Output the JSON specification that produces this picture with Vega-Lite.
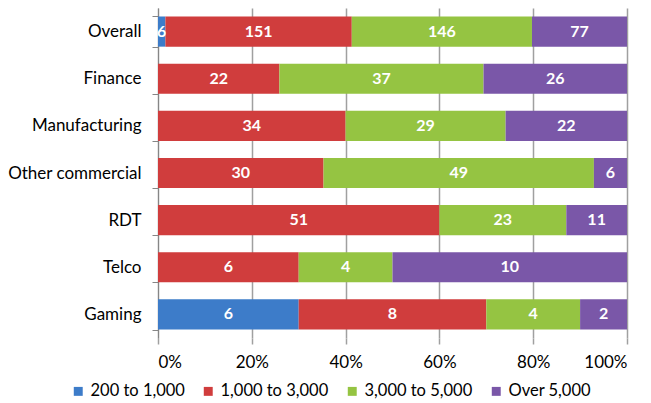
{
  "$schema": "https://vega.github.io/schema/vega-lite/v6.json",
  "width": 469,
  "height": 330,
  "autosize": {"type": "none"},
  "padding": {"left": 158, "top": 8, "right": 24, "bottom": 65},
  "background": "white",
  "config": {
    "font": "Lato",
    "view": {"stroke": null},
    "axis": {"labelFont": "Lato", "labelColor": "#000000"}
  },
  "data": {
    "values": [
      {"sector": "Overall", "band": "200 to 1,000", "order": 1, "count": 6},
      {"sector": "Overall", "band": "1,000 to 3,000", "order": 2, "count": 151},
      {"sector": "Overall", "band": "3,000 to 5,000", "order": 3, "count": 146},
      {"sector": "Overall", "band": "Over 5,000", "order": 4, "count": 77},
      {"sector": "Finance", "band": "1,000 to 3,000", "order": 2, "count": 22},
      {"sector": "Finance", "band": "3,000 to 5,000", "order": 3, "count": 37},
      {"sector": "Finance", "band": "Over 5,000", "order": 4, "count": 26},
      {"sector": "Manufacturing", "band": "1,000 to 3,000", "order": 2, "count": 34},
      {"sector": "Manufacturing", "band": "3,000 to 5,000", "order": 3, "count": 29},
      {"sector": "Manufacturing", "band": "Over 5,000", "order": 4, "count": 22},
      {"sector": "Other commercial", "band": "1,000 to 3,000", "order": 2, "count": 30},
      {"sector": "Other commercial", "band": "3,000 to 5,000", "order": 3, "count": 49},
      {"sector": "Other commercial", "band": "Over 5,000", "order": 4, "count": 6},
      {"sector": "RDT", "band": "1,000 to 3,000", "order": 2, "count": 51},
      {"sector": "RDT", "band": "3,000 to 5,000", "order": 3, "count": 23},
      {"sector": "RDT", "band": "Over 5,000", "order": 4, "count": 11},
      {"sector": "Telco", "band": "1,000 to 3,000", "order": 2, "count": 6},
      {"sector": "Telco", "band": "3,000 to 5,000", "order": 3, "count": 4},
      {"sector": "Telco", "band": "Over 5,000", "order": 4, "count": 10},
      {"sector": "Gaming", "band": "200 to 1,000", "order": 1, "count": 6},
      {"sector": "Gaming", "band": "1,000 to 3,000", "order": 2, "count": 8},
      {"sector": "Gaming", "band": "3,000 to 5,000", "order": 3, "count": 4},
      {"sector": "Gaming", "band": "Over 5,000", "order": 4, "count": 2}
    ]
  },
  "transform": [
    {"stack": "count", "groupby": ["sector"], "sort": [{"field": "order", "order": "ascending"}], "offset": "normalize", "as": ["x0", "x1"]},
    {"calculate": "(datum.x0 + datum.x1) / 2", "as": "xmid"}
  ],
  "encoding": {
    "y": {
      "field": "sector",
      "type": "nominal",
      "sort": ["Overall", "Finance", "Manufacturing", "Other commercial", "RDT", "Telco", "Gaming"],
      "scale": {"paddingInner": 0.36, "paddingOuter": 0.18},
      "axis": {
        "title": null,
        "tickBand": "extent",
        "tickSize": 6,
        "tickColor": "#868686",
        "domainColor": "#868686",
        "labelFontSize": 17,
        "labelPadding": 11,
        "labelColor": "#000000"
      }
    }
  },
  "resolve": {"axis": {"x": "independent"}},
  "layer": [
    {
      "mark": {"type": "bar"},
      "encoding": {
        "x": {
          "field": "x0",
          "type": "quantitative",
          "scale": {"domain": [0, 1]},
          "axis": {
            "title": null,
            "format": ".0%",
            "values": [0, 0.2, 0.4, 0.6, 0.8, 1],
            "grid": true,
            "gridColor": "#a0a0a0",
            "gridOpacity": 1,
            "gridWidth": 1.5,
            "domain": false,
            "ticks": true,
            "tickColor": "#a0a0a0",
            "tickWidth": 1.5,
            "tickSize": 6,
            "labelFontSize": 17,
            "labelPadding": 10,
            "labelOverlap": false,
            "zindex": 0
          }
        },
        "x2": {"field": "x1"},
        "color": {
          "field": "band",
          "type": "nominal",
          "sort": ["200 to 1,000", "1,000 to 3,000", "3,000 to 5,000", "Over 5,000"],
          "scale": {
            "domain": ["200 to 1,000", "1,000 to 3,000", "3,000 to 5,000", "Over 5,000"],
            "range": ["#3d7cc9", "#d03d3d", "#95c442", "#7a57a8"]
          },
          "legend": {
            "title": null,
            "orient": "none",
            "direction": "horizontal",
            "legendX": -88,
            "legendY": 375,
            "symbolType": "square",
            "symbolSize": 80,
            "symbolStrokeWidth": 0,
            "labelFontSize": 16.5,
            "labelColor": "#000000",
            "columnPadding": 15,
            "symbolOffset": 0
          }
        }
      }
    },
    {
      "mark": {"type": "text", "color": "white", "fontWeight": "bold", "fontSize": 16},
      "encoding": {
        "x": {"field": "xmid", "type": "quantitative", "axis": null},
        "text": {"field": "count", "type": "quantitative"}
      }
    }
  ]
}
